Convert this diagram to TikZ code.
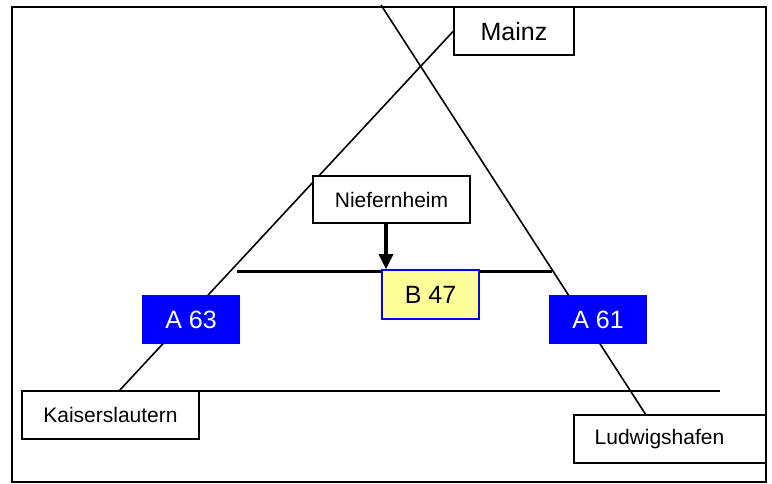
\documentclass[tikz,border=0pt]{standalone}
\usepackage{fontspec}
\setmainfont{Liberation Sans}
\usetikzlibrary{arrows.meta,backgrounds}
\definecolor{roadblue}{RGB}{0,0,255}
\definecolor{paleyellow}{RGB}{255,255,153}

\begin{document}
\begin{tikzpicture}[x=1pt, y=-1pt,
  city/.style={draw, line width=2pt, fill=white, inner sep=0pt, minimum height=48pt},
  big/.style={font=\fontsize{25}{30}\selectfont},
  small/.style={font=\fontsize{21}{25}\selectfont},
  autobahn/.style={fill=roadblue, text=white, inner sep=0pt, minimum width=98pt, minimum height=49pt, big},
  road/.style={line width=1.6pt}]
\useasboundingbox (0,0) rectangle (772,484);
\draw[line width=2pt] (12,7) rectangle (766,482);

\node[city, big, minimum width=120pt]   (mainz) at (514,31.5)  {Mainz};
\node[city, small, minimum width=177pt] (kl)    at (110.5,415) {Kaiserslautern};
\node[city, small, minimum width=192pt] (lu)    at (670,439)   {Ludwigshafen\hspace*{21pt}};
\node[city, small, minimum width=157pt, minimum height=47pt] (nief) at (391.5,199.5) {Niefernheim};
\node[draw=roadblue, line width=1.5pt, fill=paleyellow, big, inner sep=0pt,
      minimum width=97pt, minimum height=49pt] (b47) at (430.5,294.5) {B 47};
\node[autobahn] (a63) at (191,319.5) {A 63};
\node[autobahn] (a61) at (598,319.5) {A 61};

% free ends of the roads
\coordinate (ks)    at (119,391);
\coordinate (ke)    at (720,391);
\coordinate (top)   at (381,5);
\coordinate (lutop) at (646,415);
\coordinate (hl)    at (237,271.5);
\coordinate (hr)    at (552,271.5);

\begin{scope}[on background layer]
\draw[road] (ks) -- (mainz.west);
\draw[road] (top) -- (lutop);
\draw[line width=2.2pt] (ks) -- (ke);
\draw[line width=2.2pt] (hl) -- (hr);
\end{scope}

\draw[line width=3.2pt, -{Triangle[width=14pt,length=15pt]}]
  ([xshift=-5.5pt]nief.south) -- ([xshift=-5.5pt]nief.south |- b47.north);
\end{tikzpicture}
\end{document}
